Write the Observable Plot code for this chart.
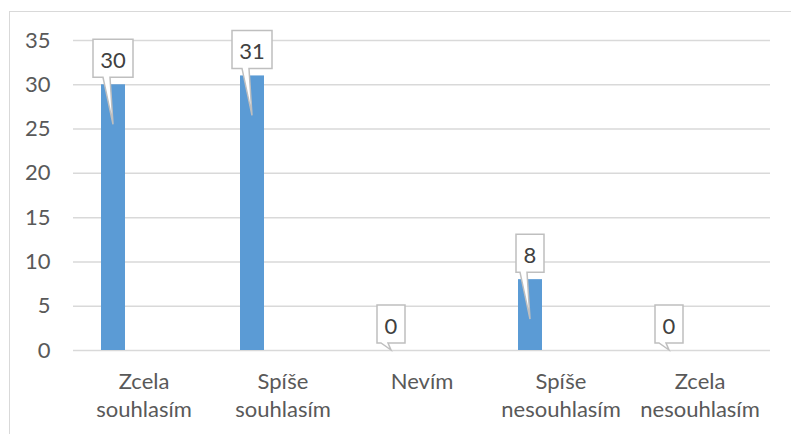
<!DOCTYPE html>
<html>
<head>
<meta charset="utf-8">
<script src="https://cdn.jsdelivr.net/npm/d3@7"></script>
<script src="https://cdn.jsdelivr.net/npm/@observablehq/plot@0.6"></script>
<style>
  html, body { margin: 0; padding: 0; background: #fff; }
  #wrap { position: relative; width: 791px; height: 434px; overflow: hidden; }
  #frame { position: absolute; left: 9px; top: 11px; right: -10px; bottom: -10px;
           border-left: 1.5px solid #d9d9d9; border-top: 1.5px solid #d9d9d9; pointer-events: none; }
</style>
</head>
<body>
<div id="wrap"><div id="frame"></div></div>
<script>
const categories = ["Zcela souhlasím", "Spíše souhlasím", "Nevím", "Spíše nesouhlasím", "Zcela nesouhlasím"];
const values = [30, 31, 0, 8, 0];
const tickLabels = ["Zcela\nsouhlasím", "Spíše\nsouhlasím", "Nevím", "Spíše\nnesouhlasím", "Zcela\nnesouhlasím"];
const yTicks = [0, 5, 10, 15, 20, 25, 30, 35];

const data = categories.map((c, i) => ({category: c, value: values[i]}));

const INSET_L = 27, INSET_R = 88;

function calloutRender(index, scales, vals, dims) {
  const g = d3.create("svg:g");
  let bw = scales.x.bandwidth;
  if (typeof bw === "function") bw = bw.call(scales.x);
  if (!isFinite(bw)) bw = (dims.width - dims.marginLeft - dims.marginRight) / categories.length;
  const y0 = scales.y(0);
  for (const i of index) {
    const d = data[i];
    let x0 = scales.x(d.category);
    if (!isFinite(x0)) x0 = dims.marginLeft + categories.indexOf(d.category) * bw;
    const cx = x0 + INSET_L + (bw - INSET_L - INSET_R) / 2;
    const yv = scales.y(d.value);
    const label = String(d.value);
    const w = 16 + 12 * label.length;
    const top = yv - 45, bottom = top + 38;
    const left = cx - w / 2, right = cx + w / 2;
    const tipY = Math.min(yv + 40, y0);
    const path = `M${left},${top}H${right}V${bottom}H${cx - 3}L${cx},${tipY}L${cx - 10},${bottom}H${left}Z`;
    g.append("path").attr("d", path).attr("fill", "#fff").attr("stroke", "#bfbfbf").attr("stroke-width", 1.5)
      .attr("stroke-linejoin", "miter");
    g.append("text").attr("x", cx).attr("y", (top + bottom) / 2 + 1)
      .attr("text-anchor", "middle").attr("dominant-baseline", "central")
      .attr("fill", "#404040").attr("font-size", 22).text(label);
  }
  return g.node();
}

const chart = Plot.plot({
  width: 791,
  height: 434,
  marginLeft: 73,
  marginRight: 21,
  marginTop: 40,
  marginBottom: 84,
  style: {fontFamily: "Lato, 'Open Sans', sans-serif", fontSize: "22px", color: "#595959", background: "transparent"},
  x: {domain: categories, padding: 0, axis: null, label: null},
  y: {domain: [0, 35], axis: null, label: null},
  marks: [
    Plot.ruleY(yTicks, {stroke: "#d9d9d9", strokeWidth: 1.5}),
    Plot.barY(data, {x: "category", y: "value", fill: "#5b9bd5", insetLeft: INSET_L, insetRight: INSET_R}),
    Plot.axisY({ticks: yTicks, tickSize: 0, tickPadding: 23, fontSize: 22, label: null}),
    Plot.axisX({tickSize: 0, tickPadding: 19, fontSize: 22, lineHeight: 1.25, label: null,
      tickFormat: d => tickLabels[categories.indexOf(d)]}),
    Plot.dot(data, {x: "category", y: "value", r: 0, render: calloutRender})
  ]
});
chart.style.position = "absolute";
chart.style.left = "0";
chart.style.top = "0";
document.getElementById("wrap").appendChild(chart);
</script>
</body>
</html>
